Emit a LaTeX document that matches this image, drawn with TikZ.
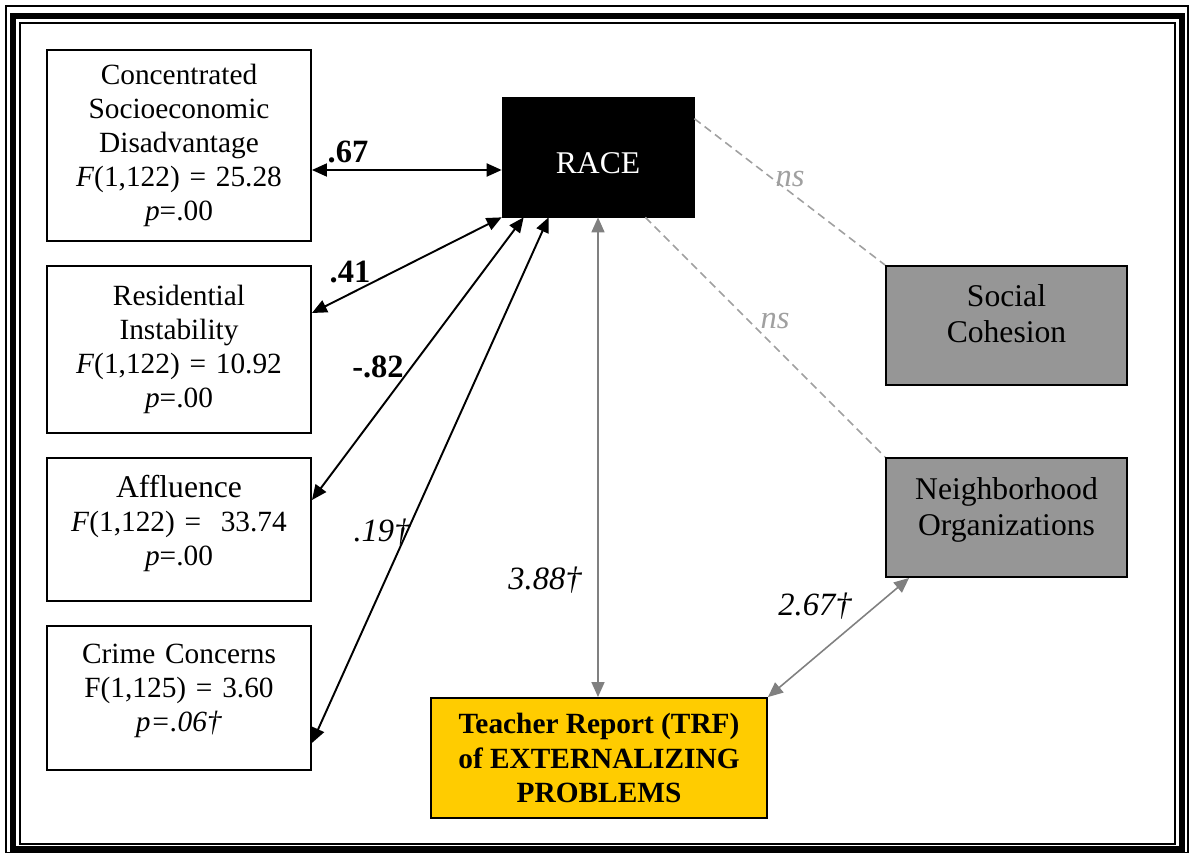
\documentclass[tikz,border=0pt]{standalone}
\usepackage{fontspec}
\setmainfont{Liberation Serif}
\usetikzlibrary{arrows.meta,calc}
\definecolor{boxgray}{RGB}{150,150,150}
\definecolor{trfyellow}{RGB}{255,204,0}
\definecolor{linegray}{RGB}{128,128,128}
\definecolor{dashgray}{RGB}{160,160,160}

\begin{document}
\begin{tikzpicture}[x=0.02cm,y=-0.02cm,
  varbox/.style={draw,line width=1.1pt,align=center,inner sep=0pt,text width=5cm,
    minimum width=5.28cm,font=\fontsize{16.7}{19.4}\selectfont},
  graybox/.style={draw,line width=1.1pt,fill=boxgray,align=center,inner sep=0pt,
    minimum width=4.82cm,minimum height=2.38cm,font=\fontsize{18}{20.7}\selectfont},
  biarrow/.style={line width=1.1pt,{Triangle[length=0.3cm,width=0.26cm]}-{Triangle[length=0.3cm,width=0.26cm]}},
  grayarrow/.style={biarrow,linegray,line width=0.9pt},
  nsline/.style={dashgray,line width=0.9pt,dash pattern=on 0.16cm off 0.1cm},
  coef/.style={font=\fontsize{18.5}{21}\selectfont\bfseries},
  itcoef/.style={font=\fontsize{18.5}{21}\selectfont\itshape}]
  \useasboundingbox (0,0) rectangle (1189,852);
  % frame
  \draw[line width=1.1pt](6,6) rectangle (1188,853);
  \draw[line width=3.4pt](13,16) rectangle (1182,849);
  \draw[line width=1.1pt](20,23) rectangle (1175,844);
  % neighborhood variables
  \node[varbox,minimum height=3.82cm](csd) at(179,145.5){Concentrated\\Socioeconomic\\Disadvantage\\\textit{F}(1,122) = 25.28\\\textit{p}=.00};
  \node[varbox,minimum height=3.34cm](res) at(179,349.5){Residential\\Instability\\\textit{F}(1,122) = 10.92\\\textit{p}=.00};
  \node[varbox,minimum height=2.86cm,text depth=1.73cm](aff) at(179,529.5){{\fontsize{18}{20.7}\selectfont Affluence}\\\textit{F}(1,122) = \ 33.74\\\textit{p}=.00};
  \node[varbox,minimum height=2.88cm,text depth=1.76cm](crime) at(179,698){Crime Concerns\\F(1,125) = 3.60\\\textit{p=.06\textdagger}};
  \node[draw,fill=black,text=white,minimum width=3.84cm,minimum height=2.4cm,text height=0.66cm,text depth=0pt,
    font=\fontsize{18}{20.7}\selectfont](race) at(598,157){RACE};
  \node[graybox,text depth=0.48cm](soc) at(1006.5,325.5){Social\\Cohesion};
  \node[graybox,text depth=0.44cm](nbh) at(1006.5,517.5){Neighborhood\\Organizations};
  \node[draw,line width=1.1pt,fill=trfyellow,align=center,minimum width=6.72cm,minimum height=2.4cm,
    font=\fontsize{16.7}{19.8}\selectfont\bfseries](trf) at(599,758){Teacher Report (TRF)\\of EXTERNALIZING\\PROBLEMS};
  % correlations with race
  \draw[biarrow]([yshift=-0.26cm]race.west)--([yshift=-0.26cm]race.west -| csd.east);
  \draw[biarrow](race.south west)--([yshift=0.73cm]res.east);
  \draw[biarrow]([xshift=0.44cm]race.south west)--([yshift=0.59cm]aff.east);
  \draw[biarrow]([xshift=0.94cm]race.south west)--([yshift=-0.9cm]crime.east);
  \draw[grayarrow](race.south)--(race.south |- trf.north);
  \draw[grayarrow](trf.north east)--([xshift=0.48cm]nbh.south west);
  \draw[nsline]([yshift=-0.44cm]race.north east)--(soc.north west);
  \draw[nsline]([xshift=-0.98cm]race.south east)--(nbh.north west);
  % labels
  \node[coef](c67) at(348,152){.67};
  \node[coef](c41) at(350,272){.41};
  \node[coef](c82) at(378,367){-.82};
  \node[itcoef](c19) at(382,532){.19\textdagger};
  \node[itcoef](c388) at(545,580){3.88\textdagger};
  \node[itcoef](c267) at(815,606){2.67\textdagger};
  \node[itcoef,dashgray](ns1) at(790,179){ns};
  \node[itcoef,dashgray](ns2) at(775,321){ns};
\end{tikzpicture}
\end{document}
